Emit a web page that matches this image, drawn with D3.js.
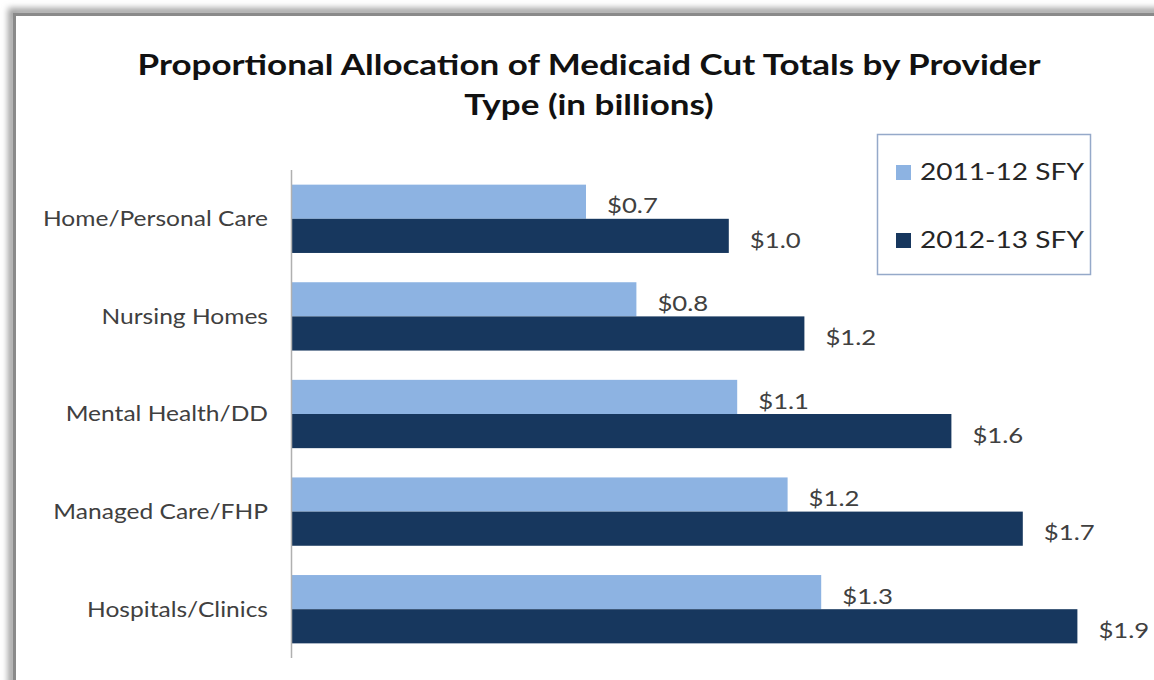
<!DOCTYPE html>
<html lang="en">
<meta charset="utf-8">
<head>
    <script src="https://d3js.org/d3.v7.min.js"></script>
    <style>
        body { margin: 0; background: #fff; }
        text { font-family: Lato, "Open Sans", sans-serif; }
    </style>
</head>
<body>
<svg width="1154" height="680"></svg>
<script>
// data (billions)
var categories = ["Home/Personal Care", "Nursing Homes", "Mental Health/DD", "Managed Care/FHP", "Hospitals/Clinics"];
var seriesNames = ["2011-12 SFY", "2012-13 SFY"];
var values1112 = [0.70, 0.82, 1.06, 1.18, 1.26];
var values1213 = [1.04, 1.22, 1.57, 1.74, 1.87];
var colors = ["#8db3e2", "#17375e"];

var svg = d3.select("svg");
var SX = 1.17; // the picture is stretched sideways a bit

// frame with soft shadow
var defs = svg.append("defs");
var f = defs.append("filter").attr("id", "sh").attr("x", "-5%").attr("y", "-5%").attr("width", "110%").attr("height", "110%");
f.append("feGaussianBlur").attr("stdDeviation", 3);
svg.append("rect")
    .attr("x", 12).attr("y", 12).attr("width", 1170).attr("height", 700)
    .attr("fill", "none").attr("stroke", "#a0a0a0").attr("stroke-width", 8)
    .attr("filter", "url(#sh)");
svg.append("rect")
    .attr("x", 14.5).attr("y", 14.5).attr("width", 1170).attr("height", 700)
    .attr("fill", "#fff").attr("stroke", "#8a8a8a").attr("stroke-width", 3);

function stretched(sel, x, y, sx) {
    return sel.attr("transform", "translate(" + x + "," + y + ") scale(" + (sx || SX) + ",1)");
}

// title
var titleLines = ["Proportional Allocation of Medicaid Cut Totals by Provider", "Type (in billions)"];
titleLines.forEach(function(t, i) {
    stretched(svg.append("text"), 589, 75 + i * 40, 1.25)
        .attr("text-anchor", "middle")
        .attr("font-size", "28px")
        .attr("font-weight", "bold")
        .attr("fill", "#111")
        .text(t);
});

// scales
var x = d3.scaleLinear().domain([0, 2]).range([292, 1132]);
var y0 = d3.scaleBand().domain(categories).range([170, 658]).paddingInner(0.3).paddingOuter(0.15);
var y1 = d3.scaleBand().domain(seriesNames).range([0, y0.bandwidth()]);

var rows = categories.map(function(c, i) {
    return { cat: c, vals: [values1112[i], values1213[i]] };
});
var fmt = d3.format("$.1f");

var g = svg.append("g");
var groups = g.selectAll(".grp")
    .data(rows)
    .enter().append("g")
    .attr("class", "grp")
    .attr("transform", function(d) { return "translate(0," + y0(d.cat) + ")"; });

groups.selectAll("rect")
    .data(function(d) { return d.vals.map(function(v, j) { return { s: seriesNames[j], v: v, j: j }; }); })
    .enter().append("rect")
    .attr("x", x(0))
    .attr("y", function(d) { return y1(d.s); })
    .attr("width", function(d) { return x(d.v) - x(0); })
    .attr("height", y1.bandwidth())
    .attr("fill", function(d) { return colors[d.j]; });

groups.selectAll(".val")
    .data(function(d) { return d.vals.map(function(v, j) { return { s: seriesNames[j], v: v }; }); })
    .enter().append("text")
    .attr("class", "val")
    .each(function(d) {
        stretched(d3.select(this), x(d.v) + 21, y1(d.s) + y1.bandwidth() / 2 + 4);
    })
    .attr("dy", "0.35em")
    .attr("font-size", "22px")
    .attr("fill", "#404040")
    .text(function(d) { return fmt(d.v); });

// category labels
g.selectAll(".cat")
    .data(categories)
    .enter().append("text")
    .attr("class", "cat")
    .each(function(d) {
        stretched(d3.select(this), 268, y0(d) + y0.bandwidth() / 2);
    })
    .attr("dy", "0.35em")
    .attr("text-anchor", "end")
    .attr("font-size", "21px")
    .attr("fill", "#404040")
    .text(function(d) { return d; });

// vertical axis line
svg.append("line")
    .attr("x1", x(0) - 0.5).attr("x2", x(0) - 0.5)
    .attr("y1", 170).attr("y2", 658)
    .attr("stroke", "#b0b0b0").attr("stroke-width", 1.5);

// legend
var lg = svg.append("g");
lg.append("rect")
    .attr("x", 877.5).attr("y", 134.5).attr("width", 213).attr("height", 140)
    .attr("fill", "#fff").attr("stroke", "#95a9c9").attr("stroke-width", 1.5);
seriesNames.forEach(function(s, i) {
    var cy = 172 + i * 68;
    lg.append("rect")
        .attr("x", 896).attr("y", cy - 7).attr("width", 15).attr("height", 15)
        .attr("fill", colors[i]);
    stretched(lg.append("text"), 920, cy)
        .attr("dy", "0.35em")
        .attr("font-size", "24px")
        .attr("fill", "#262626")
        .text(s);
});
</script>
</body>
</html>
